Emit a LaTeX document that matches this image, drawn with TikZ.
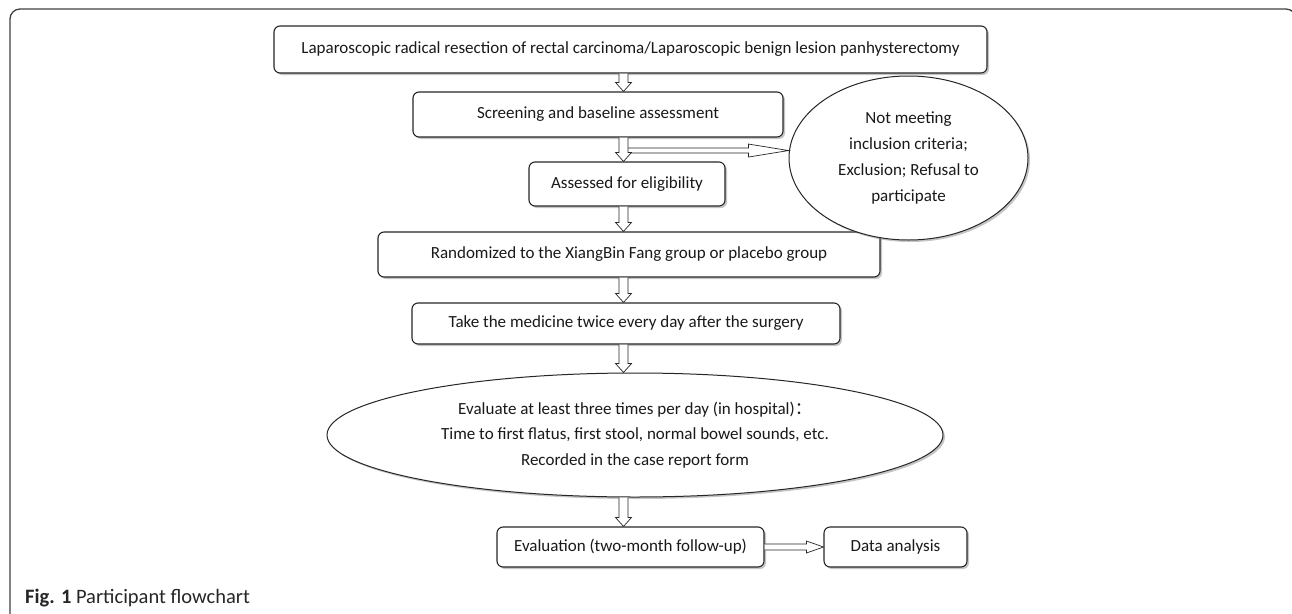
\documentclass[tikz,border=0pt]{standalone}
\usepackage{fontspec}
\setmainfont{Carlito}
\newfontfamily\cjk{Noto Sans CJK SC}
\usetikzlibrary{shapes.geometric,shadows,calc}

% hollow block arrows
\newcommand{\vblock}[2]{%
  \draw[blockline] let \p1=(#1), \p2=(#2) in
    (\x1-4.5pt,\y1) -- (\x1-4.5pt,\y2+9pt) -- (\x1-8pt,\y2+9pt) -- (\x1,\y2)
    -- (\x1+8pt,\y2+9pt) -- (\x1+4.5pt,\y2+9pt) -- (\x1+4.5pt,\y1);}
\newcommand{\hblock}[5]{%
  \draw[blockline] let \p1=(#1), \p2=(#2) in
    (\x1,\y1+#3) -- (\x2-#5,\y1+#3) -- (\x2-#5,\y1+#4) -- (\x2,\y1)
    -- (\x2-#5,\y1-#4) -- (\x2-#5,\y1-#3) -- (\x1,\y1-#3);}

\tikzset{
  shadowed/.style={drop shadow={shadow xshift=2pt, shadow yshift=-2pt, fill=black!45}},
  box/.style={draw=black!85, line width=1.1pt, rounded corners=6pt, fill=white,
    shadowed, inner sep=0pt, font=\fontsize{17}{26}\selectfont, text=black!90},
  oval/.style={ellipse, draw=black!85, line width=1pt, fill=white, shadowed,
    inner sep=0pt, align=center, font=\fontsize{17}{25.5}\selectfont, text=black!90},
  blockline/.style={draw=black!85, fill=white, line width=0.7pt},
}

\begin{document}
\begin{tikzpicture}[x=1pt, y=-1pt]
  \useasboundingbox (0,0) rectangle (1292,613);
  \clip (0,0) rectangle (1292,613);
  % outer frame
  \draw[black!75, line width=1.3pt, rounded corners=10pt] (10,700) -- (10,9) -- (1296,9) -- (1296,700);

  \coordinate (axis) at (623.5,0);

  \node[box, minimum width=713, minimum height=47] (lap) at (630.5,49.5)
    {Laparoscopic radical resection of rectal carcinoma/Laparoscopic benign lesion panhysterectomy};
  \node[box, minimum width=370, minimum height=45] (scr) at (598,114.5)
    {Screening and baseline assessment};
  \node[box, minimum width=196, minimum height=44] (ass) at (627,184)
    {Assessed for eligibility};
  \node[box, minimum width=502, minimum height=45] (ran) at (629,254.5)
    {Randomized to the XiangBin Fang group or placebo group};
  \node[box, minimum width=428, minimum height=41] (take) at (626,323.5)
    {Take the medicine twice every day after the surgery};
  \node[oval, minimum width=616, minimum height=124] (eval) at (635,435)
    {Evaluate at least three times per day (in hospital){\cjk ：}\\
     Time to first flatus, first stool, normal bowel sounds, etc.\\
     Recorded in the case report form};
  \node[box, minimum width=267, minimum height=40] (fol) at (630.5,547)
    {Evaluation (two-month follow-up)};
  \node[box, minimum width=143, minimum height=40] (data) at (895.5,547)
    {Data analysis};
  \node[oval, minimum width=239, minimum height=164, font=\fontsize{17}{26}\selectfont] (excl) at (908.5,158)
    {Not meeting\\ inclusion criteria;\\ Exclusion; Refusal to\\ participate};

  \coordinate (split) at ($(scr.south -| axis)+(4.5,13)$);

  \hblock{split}{split -| excl.west}{2.5pt}{6.5pt}{40pt}
  \vblock{lap.south -| axis}{scr.north -| axis}
  \vblock{scr.south -| axis}{ass.north -| axis}
  \vblock{ass.south -| axis}{ran.north -| axis}
  \vblock{ran.south -| axis}{take.north -| axis}
  \vblock{take.south -| axis}{eval.north -| axis}
  \vblock{eval.south -| axis}{fol.north -| axis}
  \hblock{fol.east}{data.west}{3pt}{6pt}{17pt}

  \node[anchor=base west, inner sep=0pt, font=\fontsize{20.5}{22}\selectfont, text=black!85] (cap) at (25,603)
    {\textbf{Fig. 1} Participant flowchart};
\end{tikzpicture}
\end{document}
